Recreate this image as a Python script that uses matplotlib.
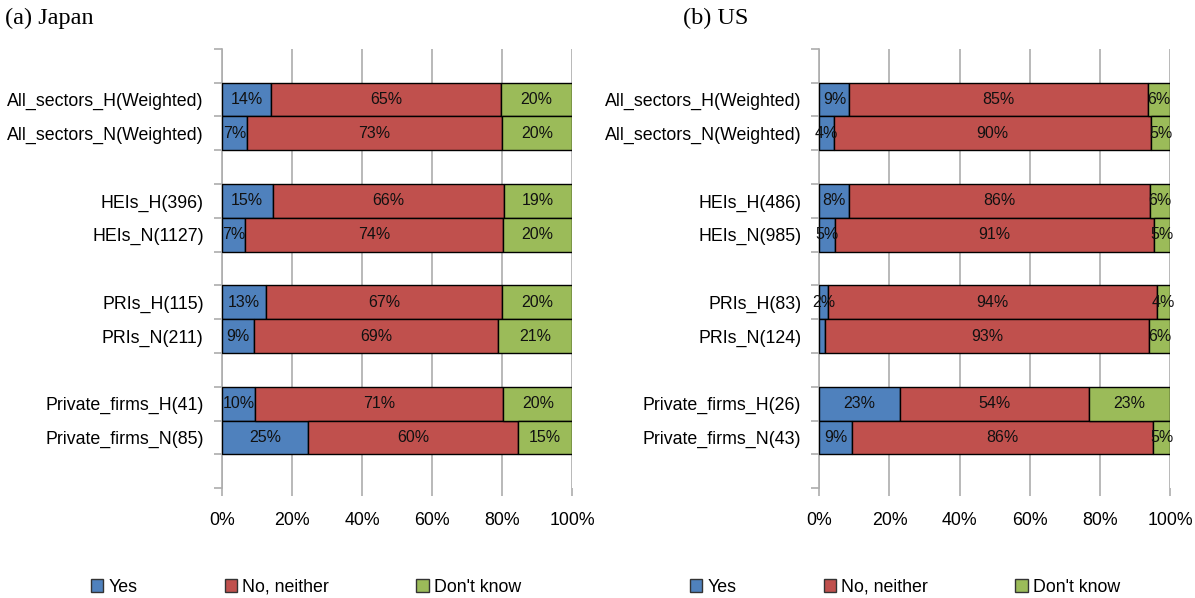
import matplotlib
matplotlib.use("Agg")
import matplotlib.pyplot as plt
from matplotlib.patches import Patch
from matplotlib.ticker import FixedLocator, FuncFormatter

# ---- data ----
jp_labels = ["All_sectors_H(Weighted)", "All_sectors_N(Weighted)", "HEIs_H(396)", "HEIs_N(1127)",
             "PRIs_H(115)", "PRIs_N(211)", "Private_firms_H(41)", "Private_firms_N(85)"]
jp_yes = [14.2, 7.2, 14.6, 6.6, 12.7, 9.3, 9.6, 24.6]
jp_no = [65.4, 72.7, 66.0, 73.6, 67.2, 69.4, 70.7, 60.0]
jp_dk = [20.4, 20.1, 19.4, 19.8, 20.1, 21.3, 19.7, 15.4]

us_labels = ["All_sectors_H(Weighted)", "All_sectors_N(Weighted)", "HEIs_H(486)", "HEIs_N(985)",
             "PRIs_H(83)", "PRIs_N(124)", "Private_firms_H(26)", "Private_firms_N(43)"]
us_yes = [8.6, 4.2, 8.4, 4.6, 2.4, 1.5, 22.9, 9.2]
us_no = [85.0, 90.4, 86.0, 90.8, 93.9, 92.6, 53.9, 86.0]
us_dk = [6.4, 5.4, 5.6, 4.6, 3.7, 5.9, 23.2, 4.8]

series_names = ["Yes", "No, neither", "Don't know"]
colors = ["#4F81BD", "#C0504D", "#9BBB59"]
x_ticks = [0, 20, 40, 60, 80, 100]
slots = [1, 2, 4, 5, 7, 8, 10, 11]   # category slots (top = 0), 13 slots in total
n_slots = 13

plt.rcParams['font.family'] = ['Liberation Sans', 'DejaVu Sans']

fig = plt.figure(figsize=(11.95, 5.98), dpi=100)
GRID = "#ADADAD"


def panel(rect, labels, yes, no, dk, title, title_x, legend_cx):
    ax = fig.add_axes(rect)
    centers = [s + 0.5 for s in slots]
    left = [0.0] * len(labels)
    for vals, col in zip([yes, no, dk], colors):
        bars = ax.barh(centers, vals, left=left, height=1.0, color=col,
                       edgecolor="black", linewidth=1.0, zorder=3)
        for b, v in zip(bars, vals):
            if v >= 2:
                ax.text(b.get_x() + b.get_width() / 2, b.get_y() + b.get_height() / 2,
                        f"{v:.0f}%", ha="center", va="center", fontsize=11.5, color="#111111", zorder=4)
        left = [l + v for l, v in zip(left, vals)]
    ax.set_xlim(0, 100)
    ax.set_ylim(n_slots, 0)
    ax.xaxis.set_major_locator(FixedLocator(x_ticks))
    ax.xaxis.set_major_formatter(FuncFormatter(lambda v, p: f"{v:.0f}%"))
    ax.yaxis.set_major_locator(FixedLocator(list(range(n_slots + 1))))
    ax.yaxis.set_major_formatter(FuncFormatter(lambda v, p: ""))
    ax.yaxis.set_minor_locator(FixedLocator(centers))
    ax.set_yticklabels(labels, minor=True)
    ax.tick_params(axis="y", which="major", length=6, width=1.2, color=GRID, direction="out")
    ax.tick_params(axis="y", which="minor", length=0, pad=13, labelsize=12.8)
    ax.tick_params(axis="x", which="major", length=6, width=1.2, color=GRID, direction="out",
                   pad=11, labelsize=12.8)
    ax.grid(axis="x", color=GRID, linewidth=1.2, zorder=0)
    for s in ["top", "right", "bottom"]:
        ax.spines[s].set_visible(False)
    ax.spines["left"].set_color(GRID)
    ax.spines["left"].set_linewidth(1.2)
    ax.spines["left"].set_zorder(1)
    fig.text(title_x, 1 - 18 / 598, title, ha="left", va="center", fontsize=17.5,
             family=["Liberation Serif", "DejaVu Serif"])
    handles = [Patch(facecolor=c, edgecolor="#333333", linewidth=1.0) for c in colors]
    fig.legend(handles, series_names, loc="center", bbox_to_anchor=(legend_cx, 1 - 587 / 598),
               ncol=3, frameon=False, fontsize=12.8, handlelength=0.7, handleheight=0.7,
               handletextpad=0.3, columnspacing=4.9, borderaxespad=0)
    return ax


bottom = 1 - 488.3 / 598
top = 1 - 48.7 / 598
panel([221.7 / 1195, bottom, 350.6 / 1195, top - bottom], jp_labels, jp_yes, jp_no, jp_dk,
      "(a) Japan", 5 / 1195, 306 / 1195)
panel([819.3 / 1195, bottom, 350.7 / 1195, top - bottom], us_labels, us_yes, us_no, us_dk,
      "(b) US", 683 / 1195, 905 / 1195)

fig.savefig("out.png", dpi=100)
